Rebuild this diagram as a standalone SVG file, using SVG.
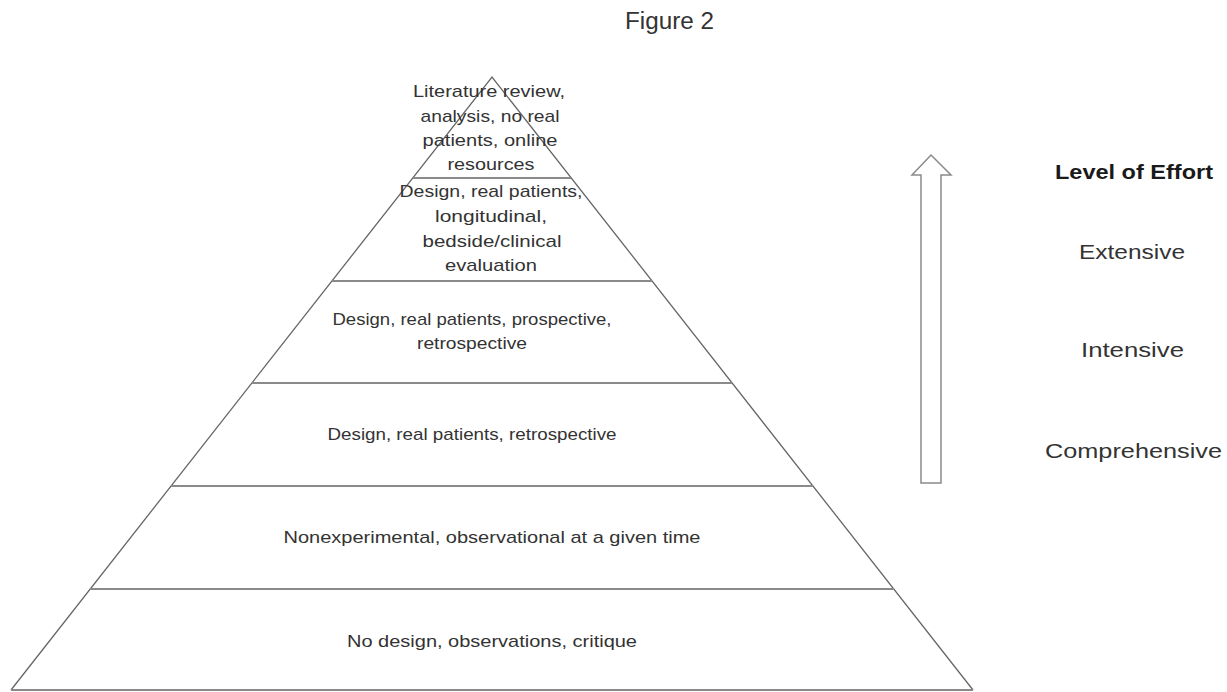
<svg xmlns="http://www.w3.org/2000/svg" width="1227" height="692" viewBox="0 0 1227 692">
<style>
.t{font-family:"Liberation Sans",Arial,sans-serif;font-size:17px;fill:#333;text-anchor:middle}
.l{font-family:"Liberation Sans",Arial,sans-serif;font-size:21px;fill:#333;text-anchor:middle}
.b{font-weight:bold;fill:#1a1a1a}
.side{stroke:#666;stroke-width:1.3;fill:none}
.band{stroke:#8a8a8a;stroke-width:2;fill:none}
.arrow{stroke:#8a8a8a;stroke-width:1.5;fill:#fff}
</style>
<rect width="1227" height="692" fill="#fff"/>
<text class="l" x="669.5" y="28.5" style="font-size:23px" textLength="89" lengthAdjust="spacingAndGlyphs">Figure 2</text>
<g id="pyramid-outline">
<polyline class="side" points="11,690 492,77 973,690"/>
<line class="band" x1="11" y1="690" x2="973" y2="690"/>
</g>
<g id="connectors">
<line class="band" x1="413" y1="178" x2="571" y2="178"/>
<line class="band" x1="332" y1="281" x2="652" y2="281"/>
<line class="band" x1="252" y1="383" x2="732" y2="383"/>
<line class="band" x1="171" y1="486" x2="813" y2="486"/>
<line class="band" x1="90" y1="589" x2="894" y2="589"/>
</g>
<g id="tier1">
<text class="t" x="489" y="97" textLength="152" lengthAdjust="spacingAndGlyphs">Literature review,</text>
<text class="t" x="490" y="121.5" textLength="139" lengthAdjust="spacingAndGlyphs">analysis, no real</text>
<text class="t" x="490" y="146" textLength="135" lengthAdjust="spacingAndGlyphs">patients, online</text>
<text class="t" x="491" y="169.5" textLength="87" lengthAdjust="spacingAndGlyphs">resources</text>
</g>
<g id="tier2">
<text class="t" x="491" y="197" textLength="183" lengthAdjust="spacingAndGlyphs">Design, real patients,</text>
<text class="t" x="491" y="221.5" textLength="112" lengthAdjust="spacingAndGlyphs">longitudinal,</text>
<text class="t" x="492" y="246.5" textLength="139" lengthAdjust="spacingAndGlyphs">bedside/clinical</text>
<text class="t" x="491" y="270.5" textLength="92" lengthAdjust="spacingAndGlyphs">evaluation</text>
</g>
<g id="tier3">
<text class="t" x="472" y="325" textLength="279" lengthAdjust="spacingAndGlyphs">Design, real patients, prospective,</text>
<text class="t" x="472" y="349" textLength="110" lengthAdjust="spacingAndGlyphs">retrospective</text>
</g>
<g id="tier4">
<text class="t" x="472" y="440" textLength="289" lengthAdjust="spacingAndGlyphs">Design, real patients, retrospective</text>
</g>
<g id="tier5">
<text class="t" x="492" y="543" textLength="417" lengthAdjust="spacingAndGlyphs">Nonexperimental, observational at a given time</text>
</g>
<g id="tier6">
<text class="t" x="492" y="647" textLength="290" lengthAdjust="spacingAndGlyphs">No design, observations, critique</text>
</g>
<g id="effort-arrow">
<polygon class="arrow" points="931,155 951,175 941,175 941,483 921,483 921,175 912,175"/>
</g>
<g id="effort-labels">
<text class="l b" x="1134" y="179" textLength="158" lengthAdjust="spacingAndGlyphs">Level of Effort</text>
<text class="l" x="1132" y="259" textLength="106" lengthAdjust="spacingAndGlyphs">Extensive</text>
<text class="l" x="1132.5" y="357" textLength="103" lengthAdjust="spacingAndGlyphs">Intensive</text>
<text class="l" x="1133.5" y="458" textLength="177" lengthAdjust="spacingAndGlyphs">Comprehensive</text>
</g>
</svg>
